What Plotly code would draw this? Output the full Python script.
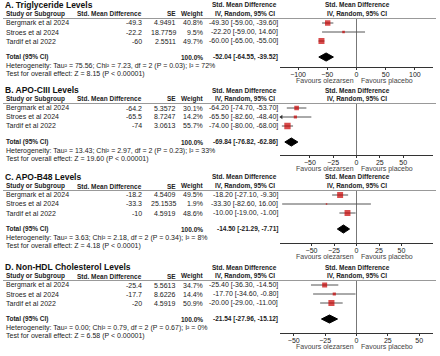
import plotly.graph_objects as go

W, H = 440, 356

# ---------------- data ----------------
titles = ["A. Triglyceride Levels", "B. APO-CIII Levels", "C. APO-B48 Levels",
          "D. Non-HDL Cholesterol Levels"]
studies = ["Bergmark et al 2024", "Stroes et al 2024", "Tardif et al 2022"]
smd = [[-49.3, -22.2, -60], [-64.2, -65.5, -74], [-18.2, -33.3, -10], [-25.4, -17.7, -20]]
se = [["4.9491", "18.7759", "2.5511"], ["5.3572", "8.7247", "3.0613"],
      ["4.5409", "25.1535", "4.5919"], ["5.5613", "8.6226", "4.5919"]]
weights = [[40.8, 9.5, 49.7], [30.1, 14.2, 55.7], [49.5, 1.9, 48.6], [34.7, 14.4, 50.9]]
ci_lo = [[-59.00, -59.00, -65.00], [-74.70, -82.60, -80.00],
         [-27.10, -82.60, -19.00], [-36.30, -34.60, -29.00]]
ci_hi = [[-39.60, 14.60, -55.00], [-53.70, -48.40, -68.00],
         [-9.30, 16.00, -1.00], [-14.50, -0.80, -11.00]]
tot_est = [-52.04, -69.84, -14.50, -21.54]
tot_lo = [-64.55, -76.82, -21.29, -27.96]
tot_hi = [-39.52, -62.86, -7.71, -15.12]
het = ["Tau² = 75.56; Chi² = 7.23, df = 2 (P = 0.03); I² = 72%",
       "Tau² = 13.43; Chi² = 2.97, df = 2 (P = 0.23); I² = 33%",
       "Tau² = 3.63; Chi² = 2.18, df = 2 (P = 0.34); I² = 8%",
       "Tau² = 0.00; Chi² = 0.79, df = 2 (P = 0.67); I² = 0%"]
zstat = ["Z = 8.15 (P < 0.00001)", "Z = 19.60 (P < 0.00001)",
         "Z = 4.18 (P < 0.0001)", "Z = 6.58 (P < 0.00001)"]
x_ranges = [[-131, 131], [-82, 82], [-85, 85], [-61, 61]]
tick_vals = [[-100, -50, 0, 50, 100], [-50, -25, 0, 25, 50],
             [-50, -25, 0, 25, 50], [-50, -25, 0, 25, 50]]

# ---------------- layout constants (pixels) ----------------
panel_top = [0, 85, 172, 262]
axis_off = [67, 70, 71, 71]
ROW0, ROWH = 23, 9          # first study row offset and row spacing
TOTAL_ROW = 3.78
LINE_OFF = 18.5
X0, X1 = 280, 433
FONT = "Liberation Sans, Arial, sans-serif"
TXT = "#222"

fig = go.Figure()
annotations = []
shapes = []


def px(xp):
    return xp / W


def py(yp):
    return 1 - yp / H


for k in range(4):
    P = panel_top[k]
    n = k + 1
    xa = "x" if n == 1 else f"x{n}"
    ya = "y" if n == 1 else f"y{n}"
    bottom_row = (axis_off[k] - ROW0) / ROWH
    top_row = (LINE_OFF - ROW0) / ROWH
    rows = [0, 1, 2]

    # CI lines
    xmin = x_ranges[k][0]
    for i in range(3):
        lo = max(ci_lo[k][i], xmin)
        fig.add_trace(go.Scatter(x=[lo, ci_hi[k][i]], y=[rows[i], rows[i]], mode="lines",
                                 line=dict(color="#555", width=1), xaxis=xa, yaxis=ya,
                                 hoverinfo="skip", showlegend=False))
        if ci_lo[k][i] < xmin:
            fig.add_trace(go.Scatter(x=[xmin + 1.5], y=[rows[i]], mode="markers",
                                     marker=dict(symbol="triangle-left", size=4, color="#333"),
                                     xaxis=xa, yaxis=ya, hoverinfo="skip", showlegend=False,
                                     cliponaxis=False))
    # squares
    sizes = [max(1.5, 8.5 * (w / 100) ** 0.5) for w in weights[k]]
    fig.add_trace(go.Scatter(x=smd[k], y=rows, mode="markers",
                             marker=dict(symbol="square", size=sizes, color="#c80000",
                                         line=dict(width=0)),
                             xaxis=xa, yaxis=ya, hoverinfo="skip", showlegend=False))
    # diamond
    d = 0.45
    fig.add_trace(go.Scatter(x=[tot_lo[k], tot_est[k], tot_hi[k], tot_est[k], tot_lo[k]],
                             y=[TOTAL_ROW, TOTAL_ROW - d, TOTAL_ROW, TOTAL_ROW + d, TOTAL_ROW],
                             mode="lines", fill="toself", fillcolor="black",
                             line=dict(color="black", width=1), xaxis=xa, yaxis=ya,
                             hoverinfo="skip", showlegend=False))

    xdom = [px(X0), px(X1)]
    ydom = [py(P + axis_off[k]), py(P + LINE_OFF)]
    fig.layout[f"xaxis{'' if n == 1 else n}"] = dict(
        domain=xdom, range=x_ranges[k], anchor=ya, tickvals=tick_vals[k],
        showline=True, linecolor="#333", linewidth=1, ticks="outside", ticklen=2,
        tickcolor="#333", tickfont=dict(size=7, color=TXT, family=FONT),
        ticklabelstandoff=-1,
        showgrid=False, zeroline=True, zerolinecolor="#777", zerolinewidth=1, fixedrange=True)
    fig.layout[f"yaxis{'' if n == 1 else n}"] = dict(
        domain=ydom, range=[bottom_row, top_row], anchor=xa, visible=False,
        showgrid=False, zeroline=False, fixedrange=True)

    def ann(text, xp, yp, anchor="left", size=7, bold=False, color=TXT):
        annotations.append(dict(
            text=f"<b>{text}</b>" if bold else text, x=px(xp), y=py(yp), xref="paper",
            yref="paper", xanchor=anchor, yanchor="middle", showarrow=False, borderpad=0,
            font=dict(size=size, color=color, family=FONT)))

    # header line across full width
    shapes.append(dict(type="line", xref="paper", yref="paper", x0=px(3), x1=px(436),
                       y0=py(P + LINE_OFF), y1=py(P + LINE_OFF),
                       line=dict(color="#999", width=1)))

    ann(titles[k], 4, P + 5, size=8.5, bold=True, color="#111")
    ann("Study or Subgroup", 5, P + 14, size=6.5, bold=True)
    ann("Std. Mean Difference", 143, P + 14, anchor="right", size=6.5, bold=True)
    ann("SE", 177, P + 14, anchor="right", size=6.5, bold=True)
    ann("Weight", 204, P + 14, anchor="right", size=6.5, bold=True)
    ann("Std. Mean Difference", 245, P + 5, anchor="center", size=6.5, bold=True)
    ann("IV, Random, 95% CI", 245, P + 14, anchor="center", size=6.5, bold=True)
    ann("Std. Mean Difference", 357, P + 5, anchor="center", size=6.5, bold=True)
    ann("IV, Random, 95% CI", 357, P + 14, anchor="center", size=6.5, bold=True)

    for i in range(3):
        yrow = P + ROW0 + ROWH * i
        ann(studies[i], 5, yrow)
        ann(f"{smd[k][i]:g}", 143, yrow, anchor="right")
        ann(se[k][i], 177, yrow, anchor="right")
        ann(f"{weights[k][i]:.1f}%", 204, yrow, anchor="right")
        ann(f"{smd[k][i]:.2f} [{ci_lo[k][i]:.2f}, {ci_hi[k][i]:.2f}]", 279, yrow, anchor="right")

    ytot = P + ROW0 + ROWH * TOTAL_ROW
    ann("Total (95% CI)", 5, ytot, size=6.5, bold=True)
    ann("100.0%", 204, ytot, anchor="right", size=6.5, bold=True)
    ann(f"{tot_est[k]:.2f} [{tot_lo[k]:.2f}, {tot_hi[k]:.2f}]", 279, ytot, anchor="right",
        size=6.5, bold=True)
    ann("Heterogeneity: " + het[k], 5, P + 66)
    ann("Test for overall effect: " + zstat[k], 5, P + 74)

    fav_y = P + axis_off[k] + 13.5
    ann("Favours olezarsen", 355, fav_y, anchor="right", color="#444")
    ann("Favours placebo", 360, fav_y, anchor="left", color="#444")

fig.update_layout(width=W, height=H, margin=dict(l=0, r=0, t=0, b=0),
                  paper_bgcolor="white", plot_bgcolor="white",
                  annotations=annotations, shapes=shapes,
                  font=dict(family=FONT, size=7, color=TXT))
fig.write_html("out.html", config={"displayModeBar": False},
               post_script="document.body.style.margin='0';document.body.style.padding='0';")
